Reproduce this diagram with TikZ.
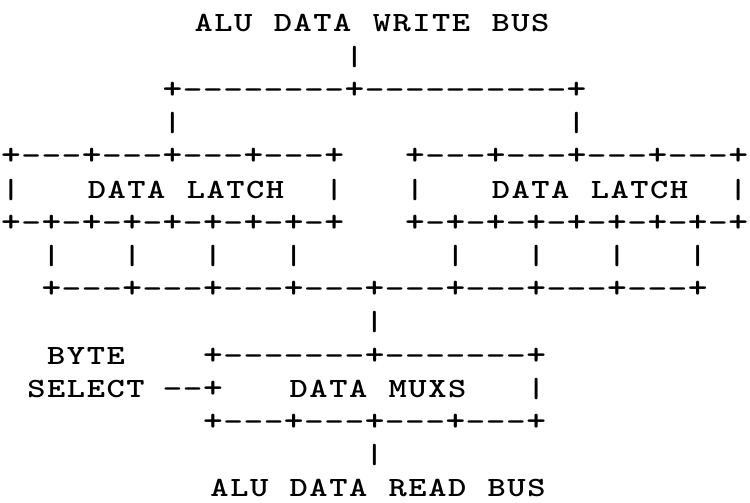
\documentclass[tikz,border=0pt]{standalone}
\usepackage{graphicx}

% character pitch of the drawing grid and of the lettering
\newlength\gpitch \setlength\gpitch{20.2pt}
\newlength\tpitch \setlength\tpitch{19.8pt}

% one widened typewriter glyph; rules and crossings a little larger
\newcommand\wideglyph[1]{%
  \ifx-#1\scalebox{1.35}[1]{#1}%
  \else\ifx+#1\scalebox{1.35}[1.1]{#1}%
  \else\scalebox{1.25}[1]{#1}\fi\fi}

% set a string of characters, one fixed cell each (~ is a blank cell)
\newcommand\gridrow[1]{\gridrowi#1\relax}
\def\gridrowi#1{\ifx\relax#1\else\makebox[\gpitch]{\wideglyph{#1}}\expandafter\gridrowi\fi}
\newcommand\textrow[1]{\textrowi#1\relax}
\def\textrowi#1{\ifx\relax#1\else\makebox[\tpitch]{\wideglyph{#1}}\expandafter\textrowi\fi}

\tikzset{
  typed/.style={inner sep=0pt, outer sep=0pt, anchor=base west,
    font=\fontsize{27.8pt}{30pt}\selectfont\ttfamily\bfseries},
  label/.style={typed, anchor=base},
}

\begin{document}
\begin{tikzpicture}[x=1pt,y=1pt]
\path[use as bounding box, fill=white] (0,0) rectangle (750,-503);

% column c of the grid starts at x = 0.9 + 20.2 c
% write bus and its split to the two latches
\node[label] (wbus) at (372,-32.0) {\textrow{ALU~DATA~WRITE~BUS}};
\node[typed] (wdrop) at (344.3,-65.2) {\gridrow{|}};
\node[typed] (split) at (162.5,-98.4) {\gridrow{+--------+----------+}};
\node[typed] (feedL) at (162.5,-131.6) {\gridrow{|}};
\node[typed] (feedR) at (566.5,-131.6) {\gridrow{|}};

% left data latch
\node[typed] (latchLtop) at (0.9,-164.8) {\gridrow{+---+---+---+---+}};
\node[typed] (latchLl) at (0.9,-198.0) {\gridrow{|}};
\node[label] (latchLname) at (186,-198.0) {\textrow{DATA~LATCH}};
\node[typed] (latchLr) at (324.1,-198.0) {\gridrow{|}};
\node[typed] (latchLbot) at (0.9,-231.2) {\gridrow{+-+-+-+-+-+-+-+-+}};

% right data latch
\node[typed] (latchRtop) at (404.9,-164.8) {\gridrow{+---+---+---+---+}};
\node[typed] (latchRl) at (404.9,-198.0) {\gridrow{|}};
\node[label] (latchRname) at (590,-198.0) {\textrow{DATA~LATCH}};
\node[typed] (latchRr) at (728.1,-198.0) {\gridrow{|}};
\node[typed] (latchRbot) at (404.9,-231.2) {\gridrow{+-+-+-+-+-+-+-+-+}};

% latch outputs onto the internal bus
\node[typed] (outL) at (41.3,-264.4) {\gridrow{|~~~|~~~|~~~|}};
\node[typed] (outR) at (445.3,-264.4) {\gridrow{|~~~|~~~|~~~|}};
\node[typed] (ibus) at (41.3,-297.6) {\gridrow{+---+---+---+---+---+---+---+---+}};
\node[typed] (idrop) at (364.5,-330.8) {\gridrow{|}};

% byte select and data multiplexers
\node[label] (byte) at (86,-364.0) {\textrow{BYTE}};
\node[typed] (muxtop) at (202.9,-364.0) {\gridrow{+-------+-------+}};
\node[label] (select) at (86,-397.2) {\textrow{SELECT}};
\node[typed] (selline) at (162.5,-397.2) {\gridrow{--+}};
\node[label] (muxname) at (378,-397.2) {\textrow{DATA~MUXS}};
\node[typed] (muxr) at (526.1,-397.2) {\gridrow{|}};
\node[typed] (muxbot) at (202.9,-430.4) {\gridrow{+---+---+---+---+}};

% read bus
\node[typed] (rdrop) at (364.5,-463.6) {\gridrow{|}};
\node[label] (rbus) at (378,-496.8) {\textrow{ALU~DATA~READ~BUS}};
\end{tikzpicture}
\end{document}
